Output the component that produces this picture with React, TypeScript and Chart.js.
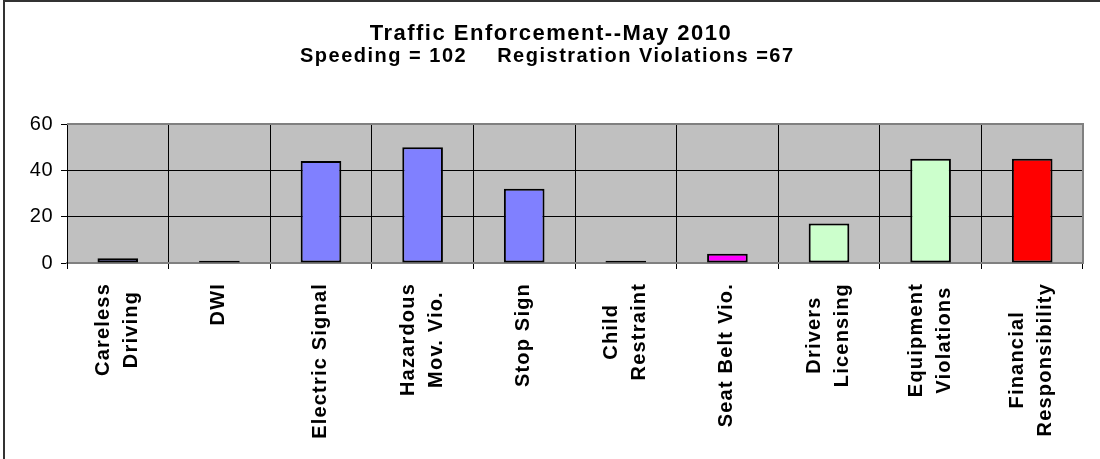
import React, { useEffect, useRef } from "react";
import { Chart, registerables } from "chart.js";

Chart.register(...registerables);

const categories: string[][] = [
  ["Careless", "Driving"],
  ["DWI"],
  ["Electric Signal"],
  ["Hazardous", "Mov. Vio."],
  ["Stop Sign"],
  ["Child", "Restraint"],
  ["Seat Belt Vio."],
  ["Drivers", "Licensing"],
  ["Equipment", "Violations"],
  ["Financial", "Responsibility"],
];
const counts = [2, 1, 44, 50, 32, 1, 4, 17, 45, 45];
const barColors = [
  "#8080FF", "#8080FF", "#8080FF", "#8080FF", "#8080FF",
  "#FF00FF", "#FF00FF", "#CCFFCC", "#CCFFCC", "#FF0000",
];
const yTicks = [0, 20, 40, 60];
const titleText = "Traffic Enforcement--May 2010";
const subtitleLeft = "Speeding = 102";
const subtitleRight = "Registration Violations =67";

const FONT = '"Liberation Sans", Arial, sans-serif';
const LINE_PITCH = 28;

const framePlugin = {
  id: "frame",
  beforeUpdate(chart: any) {
    chart.ctx.letterSpacing = "0.5px";
  },
  beforeDraw(chart: any) {
    const { ctx, chartArea: a } = chart;
    ctx.save();
    ctx.fillStyle = "#ffffff";
    ctx.fillRect(0, 0, chart.width, chart.height);
    ctx.fillStyle = "#C0C0C0";
    ctx.fillRect(a.left, a.top, a.right - a.left, a.bottom - a.top);
    ctx.restore();
    ctx.letterSpacing = "0.5px";
  },
  afterDraw(chart: any) {
    const { ctx, chartArea: a, scales } = chart;
    ctx.save();
    ctx.strokeStyle = "#808080";
    ctx.lineWidth = 2;
    ctx.beginPath();
    ctx.moveTo(a.left, a.top);
    ctx.lineTo(a.right, a.top);
    ctx.lineTo(a.right, a.bottom);
    ctx.stroke();

    ctx.fillStyle = "#333333";
    ctx.fillRect(3, 0, 2, chart.height);
    ctx.fillRect(3, 0, chart.width - 3, 2);

    ctx.fillStyle = "#000000";
    ctx.textBaseline = "alphabetic";
    ctx.textAlign = "center";
    ctx.letterSpacing = "1.5px";
    ctx.font = `bold 22px ${FONT}`;
    ctx.fillText(titleText, 551, 40);

    ctx.font = `bold 20px ${FONT}`;
    ctx.letterSpacing = "1.5px";
    ctx.textAlign = "left";
    const leftW = ctx.measureText(subtitleLeft).width;
    ctx.fillText(subtitleLeft, 300, 62);
    ctx.fillText(subtitleRight, 300 + leftW + 30, 62);

    ctx.font = `bold 20px ${FONT}`;
    ctx.letterSpacing = "1.2px";
    const xs = scales.x;
    categories.forEach((lines, i) => {
      const cx = xs.getPixelForValue(i);
      const maxW = Math.max(...lines.map((l) => ctx.measureText(l).width));
      const cy = 283 + maxW / 2;
      ctx.save();
      ctx.translate(cx, cy);
      ctx.rotate(-Math.PI / 2);
      ctx.textAlign = "center";
      ctx.textBaseline = "alphabetic";
      lines.forEach((l, j) => {
        const off = (j - (lines.length - 1) / 2) * LINE_PITCH + 5;
        ctx.fillText(l, 0, off);
      });
      ctx.restore();
    });
    ctx.restore();
  },
};

export default function App() {
  const canvasRef = useRef<HTMLCanvasElement | null>(null);

  useEffect(() => {
    const canvas = canvasRef.current;
    if (!canvas) return;
    Chart.defaults.font.family = FONT;
    const chart = new Chart(canvas, {
      type: "bar",
      data: {
        labels: categories.map((l) => l.join(" ")),
        datasets: [
          {
            data: counts,
            backgroundColor: barColors,
            borderColor: "#000000",
            borderWidth: 2,
            borderSkipped: false,
            barPercentage: 0.4,
            categoryPercentage: 1,
          },
        ],
      },
      options: {
        responsive: false,
        animation: false,
        layout: { padding: { top: 124, right: 17, left: 0, bottom: 0 } },
        plugins: {
          legend: { display: false },
          title: { display: false },
          tooltip: { enabled: false },
        },
        scales: {
          x: {
            grid: {
              color: "#000000",
              lineWidth: 1,
              offset: true,
              drawTicks: true,
              tickLength: 6,
              tickColor: "#000000",
            },
            border: { color: "#808080", width: 2 },
            ticks: { display: false },
            afterFit: (s: any) => {
              s.height = 196;
            },
          },
          y: {
            min: 0,
            max: 60,
            afterBuildTicks: (s: any) => {
              s.ticks = yTicks.map((v) => ({ value: v }));
            },
            ticks: {
              color: "#000000",
              font: { family: FONT, size: 20 },
              padding: 8,
            },
            grid: { color: "#000000", lineWidth: 1, tickLength: 6, tickColor: "#000000" },
            border: { color: "#000000", width: 1 },
            afterFit: (s: any) => {
              s.width = 67;
            },
          },
        },
      },
      plugins: [framePlugin],
    });
    return () => chart.destroy();
  }, []);

  return (
    <div style={{ position: "fixed", left: 0, top: 0, width: 1100, height: 459, background: "#fff" }}>
      <canvas ref={canvasRef} width={1100} height={459} style={{ display: "block" }} />
    </div>
  );
}
